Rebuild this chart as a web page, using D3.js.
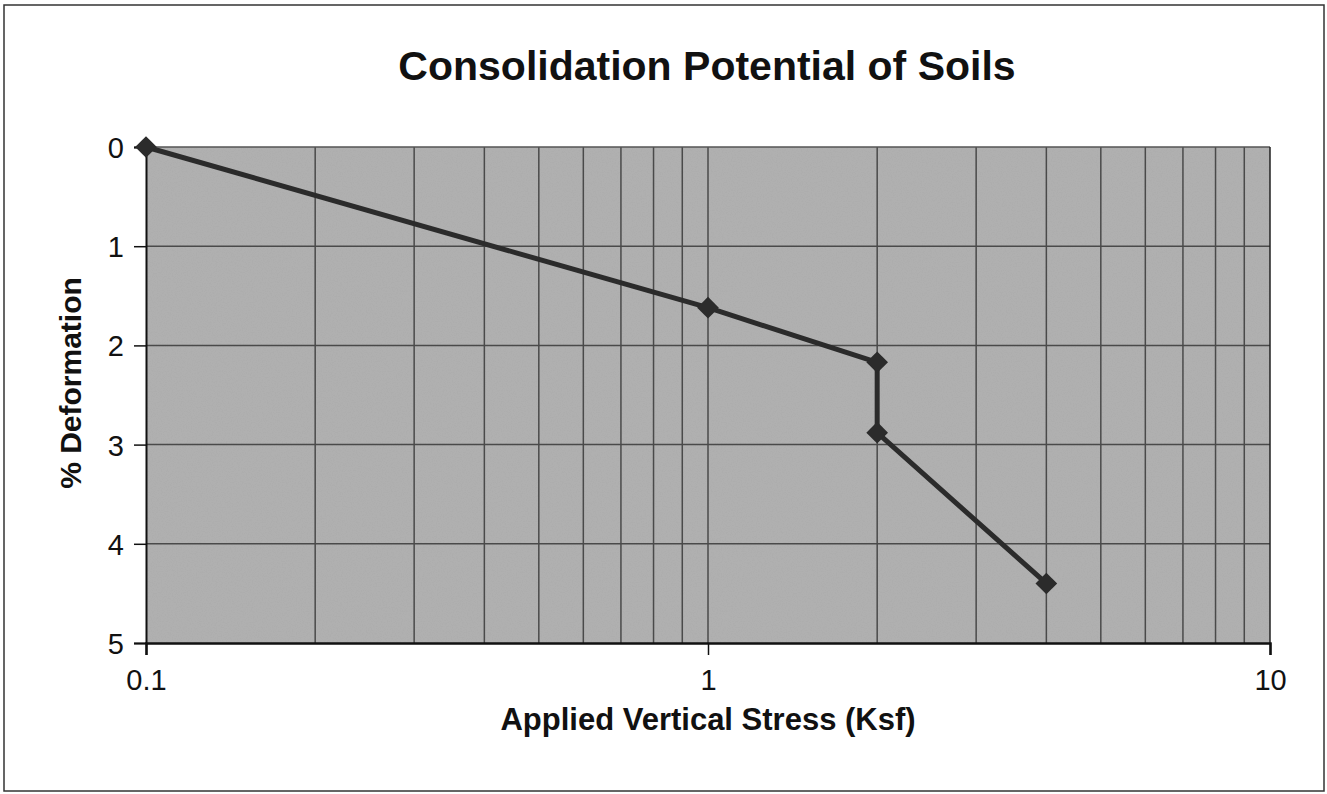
<!DOCTYPE html>
<html>
<head>
<meta charset="utf-8">
<script src="https://cdn.jsdelivr.net/npm/d3@7"></script>
<style>
  html, body { margin: 0; padding: 0; background: #fff; }
  text { font-family: "Liberation Sans", Arial, sans-serif; fill: #111; }
</style>
</head>
<body>
<div id="chart"></div>
<script>
// Chart data
const stress = [0.1, 1, 2, 2, 4];                // Applied Vertical Stress (Ksf)
const deformation = [0, 1.62, 2.17, 2.88, 4.4];  // % Deformation
const xTickValues = [0.1, 1, 10];
const yTickValues = [0, 1, 2, 3, 4, 5];

const width = 1327;
const height = 794;
const margin = { top: 147, right: 57, bottom: 151, left: 146 };

const svg = d3.select("#chart")
    .append("svg")
    .attr("width", width)
    .attr("height", height);

// Grain filter to mimic the scanned gray fill
const defs = svg.append("defs");
const grain = defs.append("filter").attr("id", "grain")
    .attr("x", 0).attr("y", 0).attr("width", 1).attr("height", 1);
grain.append("feTurbulence")
    .attr("type", "fractalNoise")
    .attr("baseFrequency", 0.8)
    .attr("numOctaves", 2)
    .attr("seed", 3)
    .attr("result", "noise");
grain.append("feColorMatrix")
    .attr("in", "noise")
    .attr("type", "matrix")
    .attr("values", "0 0 0 0 0.4  0 0 0 0 0.4  0 0 0 0 0.4  0 0 0 1.2 -0.45")
    .attr("result", "dots");
grain.append("feComposite")
    .attr("in", "dots").attr("in2", "SourceGraphic").attr("operator", "atop");

// Outer frame of the page
svg.append("rect")
    .attr("x", 4).attr("y", 5)
    .attr("width", width - 7).attr("height", height - 8)
    .attr("fill", "none")
    .attr("stroke", "#333")
    .attr("stroke-width", 1.5);

const x = d3.scaleLog()
    .domain([0.1, 10])
    .range([margin.left, width - margin.right]);

const y = d3.scaleLinear()
    .domain([0, 5])
    .range([margin.top, height - margin.bottom]);

// Plot area background
svg.append("rect")
    .attr("x", x(0.1))
    .attr("y", y(0))
    .attr("width", x(10) - x(0.1))
    .attr("height", y(5) - y(0))
    .attr("fill", "#b0b0b0")
    .attr("filter", "url(#grain)");

// Vertical log gridlines (2..9 in each decade, plus 1)
const gridX = [1];
[0.1, 1].forEach(decade => {
    for (let i = 2; i <= 9; i++) gridX.push(decade * i);
});

svg.append("g")
    .selectAll("line")
    .data(gridX)
    .join("line")
    .attr("x1", d => x(d)).attr("x2", d => x(d))
    .attr("y1", y(0)).attr("y2", y(5))
    .attr("stroke", "#4a4a4a")
    .attr("stroke-width", 1.5);

// Horizontal gridlines
svg.append("g")
    .selectAll("line")
    .data(yTickValues.filter(d => d > 0 && d < 5))
    .join("line")
    .attr("x1", x(0.1)).attr("x2", x(10))
    .attr("y1", d => y(d)).attr("y2", d => y(d))
    .attr("stroke", "#4a4a4a")
    .attr("stroke-width", 1.5);

// Top and right border of plot area
svg.append("line")
    .attr("x1", x(0.1)).attr("x2", x(10))
    .attr("y1", y(0)).attr("y2", y(0))
    .attr("stroke", "#555").attr("stroke-width", 1.5);
svg.append("line")
    .attr("x1", x(10)).attr("x2", x(10))
    .attr("y1", y(0)).attr("y2", y(5))
    .attr("stroke", "#222").attr("stroke-width", 1.5);

// Y axis
const yAxis = svg.append("g")
    .attr("transform", `translate(${x(0.1)},0)`)
    .call(d3.axisLeft(y).tickValues(yTickValues).tickFormat(d3.format("d")).tickSize(12).tickPadding(10));
yAxis.select(".domain").attr("stroke", "#111").attr("stroke-width", 2);
yAxis.selectAll(".tick line").attr("stroke", "#111").attr("stroke-width", 1.5);
yAxis.selectAll(".tick text")
    .style("font-size", "29px")
    .attr("dy", "0.36em");

// X axis
const xAxis = svg.append("g")
    .attr("transform", `translate(0,${y(5)})`)
    .call(d3.axisBottom(x).tickValues(xTickValues).tickFormat(d3.format("")).tickSize(12).tickPadding(14));
xAxis.select(".domain").attr("stroke", "#111").attr("stroke-width", 2.5);
xAxis.selectAll(".tick line").attr("stroke", "#111").attr("stroke-width", 1.5);
xAxis.selectAll(".tick text")
    .style("font-size", "29px");

// Data line
const points = stress.map((s, i) => [s, deformation[i]]);

svg.append("path")
    .datum(points)
    .attr("fill", "none")
    .attr("stroke", "#2b2b2b")
    .attr("stroke-width", 5)
    .attr("stroke-linejoin", "round")
    .attr("d", d3.line().x(d => x(d[0])).y(d => y(d[1])));

// Diamond markers
svg.append("g")
    .selectAll("path")
    .data(points)
    .join("path")
    .attr("transform", d => `translate(${x(d[0])},${y(d[1])})`)
    .attr("d", d3.symbol().type(d3.symbolDiamond2).size(300))
    .attr("fill", "#2b2b2b");

// Title
svg.append("text")
    .attr("x", 707)
    .attr("y", 80)
    .attr("text-anchor", "middle")
    .style("font-size", "41px")
    .style("font-weight", "bold")
    .text("Consolidation Potential of Soils");

// Axis titles
svg.append("text")
    .attr("x", x(1))
    .attr("y", 730)
    .attr("text-anchor", "middle")
    .style("font-size", "31px")
    .style("font-weight", "bold")
    .text("Applied Vertical Stress (Ksf)");

svg.append("text")
    .attr("transform", `translate(81,${(y(0) + y(5)) / 2 - 12}) rotate(-90)`)
    .attr("text-anchor", "middle")
    .style("font-size", "30px")
    .style("font-weight", "bold")
    .text("% Deformation");
</script>
</body>
</html>
